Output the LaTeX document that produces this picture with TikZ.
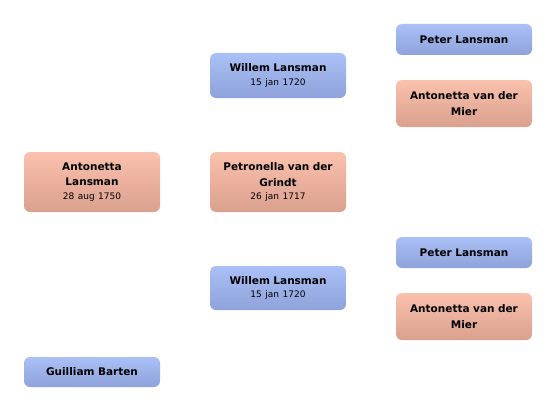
\documentclass[tikz,border=0pt]{standalone}
\usepackage{fontspec}
\setmainfont{DejaVu Sans}
\usepackage{tikz}
\usetikzlibrary{positioning}
\definecolor{blauwboven}{HTML}{AAC0F6}
\definecolor{blauwonder}{HTML}{8FA2DB}
\definecolor{zalmboven}{HTML}{FAC1AD}
\definecolor{zalmonder}{HTML}{DAA08E}
\tikzset{
  every picture/.style={x=1pt, y=-1pt},
  persoon/.style={rounded corners=6pt, minimum width=136pt, inner sep=2pt,
              align=center, text width=130pt, font=\fontsize{10.5}{15.5}\selectfont\bfseries},
  man/.style={persoon, top color=blauwboven, bottom color=blauwonder},
  vrouw/.style={persoon, top color=zalmboven, bottom color=zalmonder},
}
\newcommand{\datum}[1]{\\[-2pt]{\fontsize{9}{11}\selectfont\mdseries #1}}

\begin{document}
\begin{tikzpicture}
  \useasboundingbox (0,0) rectangle (556,412);
  % kind
  \node[vrouw, minimum height=60pt] (kind) at (92,182) {Antonetta\\Lansman\datum{28 aug 1750}};
  \node[man, minimum height=30pt] (partner) at (92,372) {Guilliam Barten};
  % ouders
  \node[man, minimum height=45pt] (vader) at (278,75.5) {Willem Lansman\datum{15 jan 1720}};
  \node[vrouw, minimum height=60pt] (moeder) at (278,182) {Petronella van der\\Grindt\datum{26 jan 1717}};
  \node[man, minimum height=44pt] (vader2) at (278,288) {Willem Lansman\datum{15 jan 1720}};
  % grootouders
  \foreach \n/\y in {a/39.5, b/252.5} {
    \node[man, minimum height=31pt] (opa\n) at (464,\y) {Peter Lansman};
    \node[vrouw, minimum height=47pt] (oma\n) at (464,\y+64) {Antonetta van der\\Mier};
  }
\end{tikzpicture}
\end{document}
